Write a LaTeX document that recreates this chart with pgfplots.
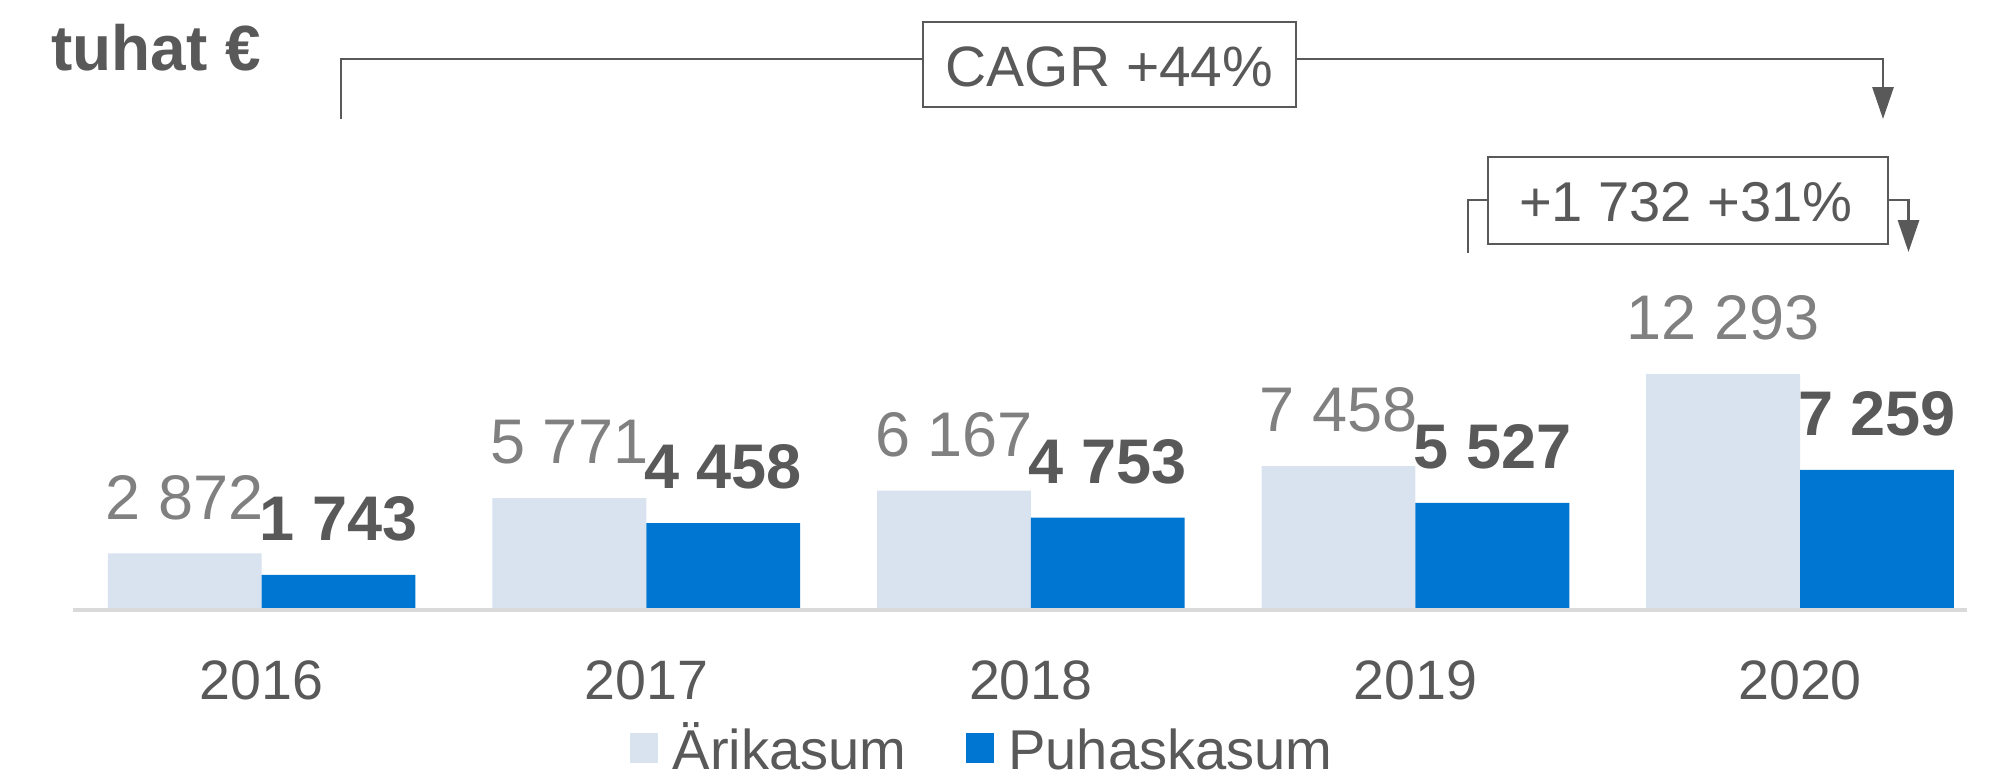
\documentclass[border=0pt]{standalone}
\usepackage{fontspec}
\setmainfont{Liberation Sans}
\usepackage{pgfplots}
\pgfplotsset{compat=1.18}
\usetikzlibrary{arrows.meta}
\definecolor{lightbar}{HTML}{D9E2EF}
\definecolor{bluebar}{HTML}{0076D3}
\definecolor{tgray}{HTML}{595959}
\definecolor{mgray}{HTML}{808080}
\definecolor{axisgray}{HTML}{D9D9D9}

\begin{document}
\begin{tikzpicture}
\useasboundingbox (-26.208pt,-62.28pt) rectangle (694.872pt,218.88pt);
\begin{axis}[
  scale only axis, width=681.9pt, height=218.88pt,
  xmin=-0.491, xmax=4.434, ymin=0, ymax=31946,
  ybar, bar width=0.4,
  axis line style={draw=none}, major tick length=0pt, ytick=\empty,
  xtick={0,1,2,3,4}, xticklabels={2016,2017,2018,2019,2020},
  xticklabel style={font=\fontsize{20}{24}\selectfont, text=tgray, anchor=base, inner sep=0pt, yshift=-32.8pt},
  clip=false,
  nodes near coords,
  /pgf/number format/fixed,
  /pgf/number format/precision=0,
  /pgf/number format/1000 sep={\ },
  /pgf/number format/assume math mode=true,
  legend columns=2,
  legend style={draw=none, fill=none, at={(0.2942,-0.2664)}, anchor=south west,
    inner sep=0pt, outer sep=0pt, font=\fontsize{20.2}{24}\selectfont, text=tgray,
    cells={anchor=base}, nodes={inner sep=0pt, text depth=0pt},
    /tikz/every odd column/.append style={column sep=5.3pt},
    /tikz/every even column/.append style={column sep=21.4pt}},
]
\addplot[fill=lightbar, draw=none, bar shift=-0.2,
  every node near coord/.append style={font=\fontsize{22.7}{27}\selectfont, text=mgray, inner sep=0pt, yshift=11.9pt},
  legend image code/.code={\fill[lightbar] (0pt,2.5pt) rectangle (10pt,13.3pt);}]
  coordinates {(0,2872) (1,5771) (2,6167) (3,7458) (4,12293)};
\addlegendentry{Ärikasum}
\addplot[fill=bluebar, draw=none, bar shift=0.2,
  every node near coord/.append style={font=\fontsize{22.7}{27}\selectfont\bfseries, text=tgray, inner sep=0pt, yshift=11.9pt},
  legend image code/.code={\fill[bluebar] (0pt,2.5pt) rectangle (10pt,13.3pt);}]
  coordinates {(0,1743) (1,4458) (2,4753) (3,5527) (4,7259)};
\addlegendentry{Puhaskasum}
\end{axis}
\begin{scope}[x=0.36pt,y=-0.36pt,shift={(-72.8,-608)}, line width=0.9pt, draw=tgray, text=tgray]
\draw[axisgray, line width=1.44pt] (72.8,610.5) -- (1967,610.5);
\node[anchor=base west, inner sep=0pt, font=\fontsize{23}{28}\selectfont\bfseries] at (50,71) {tuhat €};
\draw (341,119) -- (341,59) -- (923,59);
\draw[-{Triangle[width=7.6pt,length=11.5pt]}] (1296,59) -- (1883,59) -- (1883,119);
\draw[fill=white] (923,22) rectangle (1296,107);
\node[anchor=base, inner sep=0pt, font=\fontsize{20.5}{25}\selectfont] at (1109.5,87) {CAGR +44\%};
\draw (1468,253) -- (1468,200) -- (1488,200);
\draw[-{Triangle[width=7.6pt,length=11.5pt]}] (1888,200) -- (1908.5,200) -- (1908.5,252);
\draw[fill=white] (1488,157) rectangle (1888,244);
\node[anchor=base, inner sep=0pt, font=\fontsize{20.2}{25}\selectfont] at (1686,221.7) {+1 732 +31\%};
\end{scope}
\end{tikzpicture}
\end{document}
